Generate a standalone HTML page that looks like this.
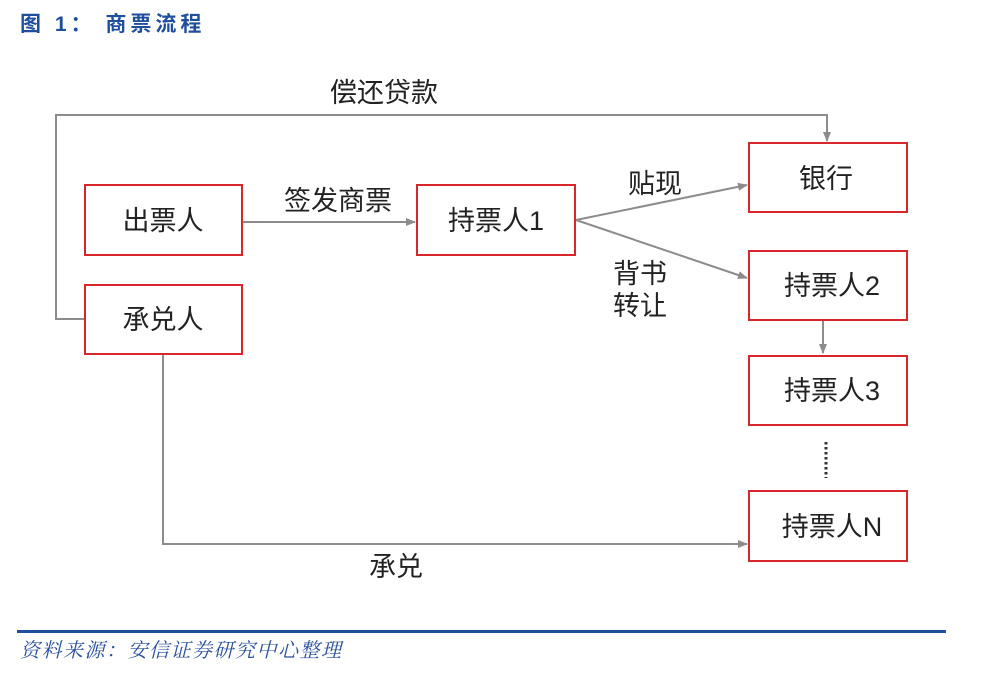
<!DOCTYPE html>
<html><head><meta charset="utf-8"><style>
html,body{margin:0;padding:0;background:#fff;width:1000px;height:677px;overflow:hidden}
svg text{font-family:"Liberation Sans","Noto Sans CJK SC",sans-serif}
</style></head><body>
<svg width="1000" height="677" viewBox="0 0 1000 677" xmlns="http://www.w3.org/2000/svg">
<defs><marker id="a" markerWidth="10" markerHeight="10" refX="9" refY="5" orient="auto" markerUnits="userSpaceOnUse"><path d="M0,1 L10,5 L0,9 Z" fill="#8c8c8c"/></marker></defs>
<text x="20" y="31" font-size="21" font-weight="bold" fill="#1f4e9c" letter-spacing="4" style="font-family:'Liberation Sans','Noto Sans CJK SC',sans-serif">图 1： 商票流程</text>
<g fill="none" stroke="#8c8c8c" stroke-width="2">
<polyline points="85,319 56,319 56,115 827,115 827,141" marker-end="url(#a)"/>
<line x1="242" y1="222" x2="415" y2="222" marker-end="url(#a)"/>
<line x1="576" y1="220" x2="747" y2="185" marker-end="url(#a)"/>
<line x1="576" y1="220" x2="747" y2="278" marker-end="url(#a)"/>
<line x1="823" y1="320" x2="823" y2="353" marker-end="url(#a)"/>
<polyline points="163,354 163,544 747,544" marker-end="url(#a)"/>
<line x1="826" y1="442" x2="826" y2="478" stroke="#333" stroke-dasharray="2.5,2.5" stroke-width="3"/>
</g>
<g fill="#fff" stroke="#d9262b" stroke-width="2">
<rect x="85" y="185" width="157" height="70"/>
<rect x="85" y="285" width="157" height="69"/>
<rect x="417" y="185" width="158" height="70"/>
<rect x="749" y="143" width="158" height="69"/>
<rect x="749" y="251" width="158" height="69"/>
<rect x="749" y="356" width="158" height="69"/>
<rect x="749" y="491" width="158" height="70"/>
</g>
<g font-size="27" fill="#222" text-anchor="middle">
<text x="163" y="230">出票人</text>
<text x="163" y="329">承兑人</text>
<text x="496" y="230">持票人1</text>
<text x="826" y="188">银行</text>
<text x="832" y="295">持票人2</text>
<text x="832" y="400">持票人3</text>
<text x="832" y="536">持票人N</text>
<text x="384" y="102">偿还贷款</text>
<text x="338" y="210">签发商票</text>
<text x="655" y="193">贴现</text>
<text x="640" y="283">背书</text>
<text x="640" y="315">转让</text>
<text x="396" y="576">承兑</text>
</g>
<rect x="17" y="630" width="929" height="3" fill="#1f4e9c"/>
<text x="20" y="657" font-size="20" font-style="italic" fill="#2a4f9a" letter-spacing="1.5" style="font-family:'Liberation Serif','Noto Serif CJK SC',serif">资料来源：安信证券研究中心整理</text>
</svg>
</body></html>
